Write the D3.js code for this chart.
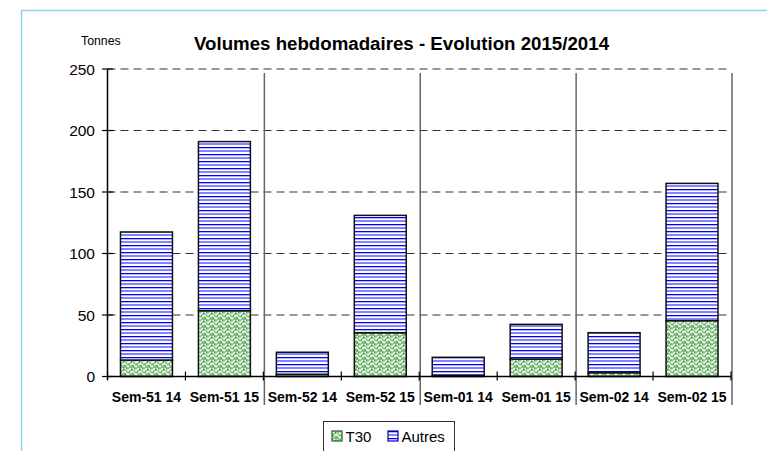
<!DOCTYPE html>
<html>
<head>
<meta charset="utf-8">
<script src="https://cdn.jsdelivr.net/npm/d3@7"></script>
<style>
  body { margin: 0; background: #fff; }
  text { font-family: "Liberation Sans", Arial, sans-serif; fill: #000; }
</style>
</head>
<body>
<div id="chart"></div>
<script>
// weekly volumes, tonnes
const categories = ['Sem-51 14', 'Sem-51 15', 'Sem-52 14', 'Sem-52 15', 'Sem-01 14', 'Sem-01 15', 'Sem-02 14', 'Sem-02 15'];
const t30Values = [13.4, 53.5, 1.8, 35.6, 1.0, 14.2, 3.1, 45.4];
const autresValues = [104.1, 137.5, 17.9, 95.4, 14.6, 28.2, 32.5, 111.6];
const yTicks = [0, 50, 100, 150, 200, 250];
const seriesNames = ['T30', 'Autres'];

const width = 767, height = 451;
const svg = d3.select('#chart').append('svg')
    .attr('width', width)
    .attr('height', height);

// patterns for the bars
const defs = svg.append('defs');
const pGreen = defs.append('pattern')
    .attr('id', 'pT30').attr('patternUnits', 'userSpaceOnUse')
    .attr('width', 8).attr('height', 8);
pGreen.append('rect').attr('width', 8).attr('height', 8).attr('fill', '#7fc07f');
pGreen.append('path')
    .attr('d', 'M0,3 L3,0 M0,7 L4,3 L8,7 M5,0 L8,3')
    .attr('stroke', '#ffffff').attr('stroke-width', 1.3).attr('fill', 'none');
pGreen.append('path')
    .attr('d', 'M1,5 h1 M6,1 h1 M5,6 h1 M3,2 h1')
    .attr('stroke', '#1a701a').attr('stroke-width', 1).attr('fill', 'none');

const pBlue = defs.append('pattern')
    .attr('id', 'pAutres').attr('patternUnits', 'userSpaceOnUse')
    .attr('width', 8).attr('height', 7);
pBlue.append('rect').attr('width', 8).attr('height', 7).attr('fill', '#ffffff');
pBlue.append('rect').attr('y', 0).attr('width', 8).attr('height', 1.3).attr('fill', '#0000ff');
pBlue.append('rect').attr('y', 3).attr('width', 8).attr('height', 2).attr('fill', '#8484ff');

const fills = { T30: 'url(#pT30)', Autres: 'url(#pAutres)' };

// outer frame
svg.append('rect')
    .attr('x', 21.5).attr('y', 10.5)
    .attr('width', 800).attr('height', 500)
    .attr('fill', 'none')
    .attr('stroke', '#8ed0ee')
    .attr('stroke-width', 1.5);

// scales
const x = d3.scaleBand()
    .domain(categories)
    .range([107.5, 731])
    .paddingInner(1 / 3)
    .paddingOuter(1 / 6);

const y = d3.scaleLinear()
    .domain([0, 250])
    .range([376.5, 69]);

const step = x.step();
const boundaries = d3.range(categories.length + 1).map(i => x.range()[0] + i * step);

// dashed gridlines
svg.append('g')
    .selectAll('line')
    .data(yTicks.filter(d => d > 0))
    .join('line')
    .attr('x1', 107.5).attr('x2', 731)
    .attr('y1', d => y(d)).attr('y2', d => y(d))
    .attr('stroke', '#333')
    .attr('stroke-width', 1.1)
    .attr('stroke-dasharray', '8,5');

// group separators
svg.append('g')
    .selectAll('line')
    .data(boundaries.filter((d, i) => i > 0 && i % 2 === 0))
    .join('line')
    .attr('x1', d => d + 1).attr('x2', d => d + 1)
    .attr('y1', 73).attr('y2', 405)
    .attr('stroke', '#666')
    .attr('stroke-width', 1.5);

// stacked bars
const table = categories.map((c, i) => ({ cat: c, T30: t30Values[i], Autres: autresValues[i] }));
const stack = d3.stack().keys(seriesNames)(table);

svg.append('g')
    .selectAll('g')
    .data(stack)
    .join('g')
    .attr('fill', d => fills[d.key])
    .selectAll('rect')
    .data(d => d)
    .join('rect')
    .attr('x', d => x(d.data.cat))
    .attr('y', d => y(d[1]))
    .attr('width', x.bandwidth())
    .attr('height', d => y(d[0]) - y(d[1]))
    .attr('stroke', '#111')
    .attr('stroke-width', 1.5);

// y axis
const yAxis = svg.append('g');
yAxis.append('line')
    .attr('x1', 107.5).attr('x2', 107.5)
    .attr('y1', y(250)).attr('y2', y(0) + 3)
    .attr('stroke', '#000').attr('stroke-width', 1.5);
yAxis.selectAll('.tick')
    .data(yTicks)
    .join('line')
    .attr('x1', 102).attr('x2', 113)
    .attr('y1', d => y(d)).attr('y2', d => y(d))
    .attr('stroke', '#000').attr('stroke-width', 1.2);
yAxis.selectAll('text')
    .data(yTicks)
    .join('text')
    .attr('x', 95)
    .attr('y', d => y(d))
    .attr('dy', '0.36em')
    .attr('text-anchor', 'end')
    .style('font-size', '15.5px')
    .text(d => d);

// x axis
const xAxis = svg.append('g');
xAxis.append('line')
    .attr('x1', 107.5).attr('x2', 731)
    .attr('y1', y(0)).attr('y2', y(0))
    .attr('stroke', '#000').attr('stroke-width', 1.5);
xAxis.selectAll('.tick')
    .data(boundaries)
    .join('line')
    .attr('x1', d => d).attr('x2', d => d)
    .attr('y1', y(0) - 5).attr('y2', y(0) + 4)
    .attr('stroke', '#000').attr('stroke-width', 1.2);
xAxis.selectAll('text')
    .data(categories)
    .join('text')
    .attr('x', d => x(d) + x.bandwidth() / 2)
    .attr('y', 401.5)
    .attr('text-anchor', 'middle')
    .style('font-size', '14px')
    .style('font-weight', 'bold')
    .text(d => d);

// titles
svg.append('text')
    .attr('x', 401.5).attr('y', 50)
    .attr('text-anchor', 'middle')
    .style('font-size', '18.7px')
    .style('font-weight', 'bold')
    .text('Volumes hebdomadaires - Evolution 2015/2014');

svg.append('text')
    .attr('x', 81).attr('y', 45)
    .style('font-size', '12.3px')
    .text('Tonnes');

// legend
const legend = svg.append('g');
legend.append('rect')
    .attr('x', 323.5).attr('y', 421.5)
    .attr('width', 131).attr('height', 32)
    .attr('fill', '#fff')
    .attr('stroke', '#333').attr('stroke-width', 1);

const legendX = [332, 388];
const items = legend.selectAll('g')
    .data(seriesNames)
    .join('g')
    .attr('transform', (d, i) => 'translate(' + legendX[i] + ',431)');
items.append('rect')
    .attr('width', 10).attr('height', 10)
    .attr('fill', d => fills[d])
    .attr('stroke', (d, i) => i === 0 ? '#1f5f1f' : '#0000aa')
    .attr('stroke-width', 1.2);
items.append('text')
    .attr('x', 13.5).attr('y', 10.7)
    .style('font-size', '15px')
    .text(d => d);
</script>
</body>
</html>
